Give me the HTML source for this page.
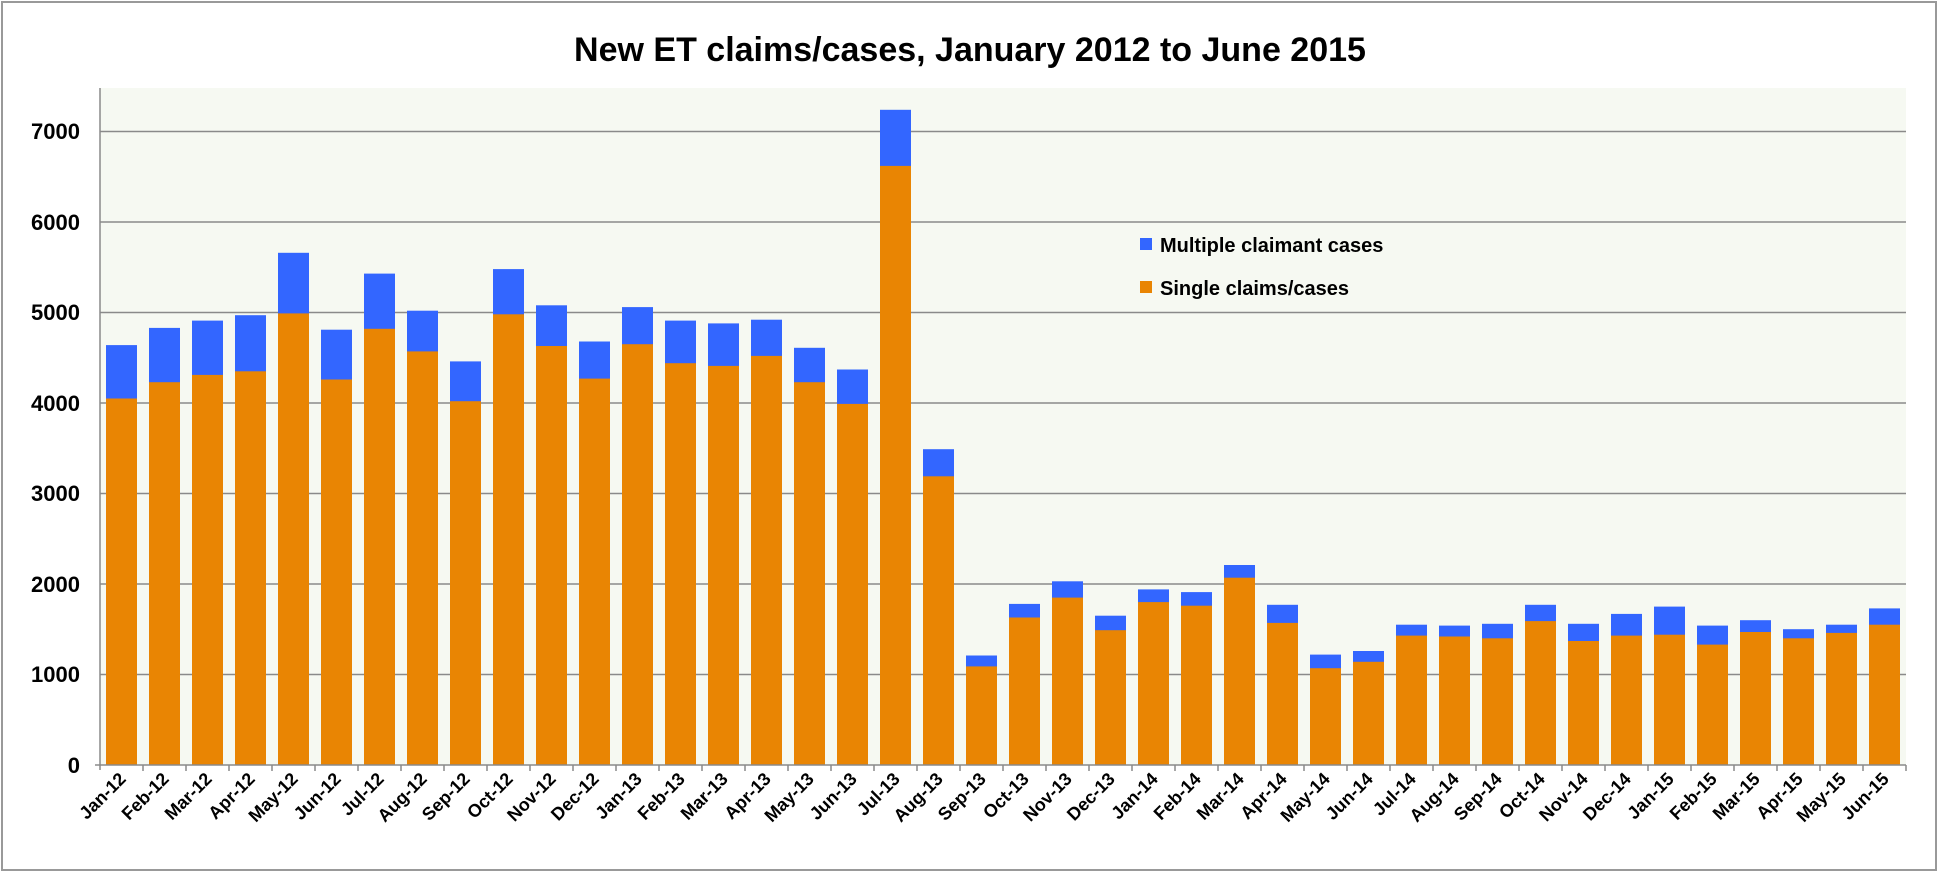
<!DOCTYPE html>
<html><head><meta charset="utf-8"><style>html,body{margin:0;padding:0;background:#fff}svg{display:block;font-family:"Liberation Sans",Arial,sans-serif;font-weight:bold}</style></head><body>
<svg width="1940" height="873" viewBox="0 0 1940 873" xmlns="http://www.w3.org/2000/svg">
<rect x="2" y="2" width="1934" height="868" fill="#fff" stroke="#999" stroke-width="2"/>
<text x="970" y="61" font-size="34" text-anchor="middle" fill="#000">New ET claims/cases, January 2012 to June 2015</text>
<rect x="100" y="88" width="1806" height="677" fill="#f6f9f2"/>
<g stroke="#8a8a8a" stroke-width="1.5">
<line x1="100" y1="674.5" x2="1906" y2="674.5"/><line x1="100" y1="584" x2="1906" y2="584"/><line x1="100" y1="493.5" x2="1906" y2="493.5"/><line x1="100" y1="403" x2="1906" y2="403"/><line x1="100" y1="312.5" x2="1906" y2="312.5"/><line x1="100" y1="222" x2="1906" y2="222"/><line x1="100" y1="131.5" x2="1906" y2="131.5"/>
</g>
<g font-size="22" text-anchor="end" fill="#000">
<text x="80" y="773">0</text><text x="80" y="682">1000</text><text x="80" y="592">2000</text><text x="80" y="501">3000</text><text x="80" y="411">4000</text><text x="80" y="320">5000</text><text x="80" y="230">6000</text><text x="80" y="139">7000</text>
</g>
<g fill="#3366ff">
<rect x="106" y="345.1" width="31" height="419.9"/><rect x="149" y="327.9" width="31" height="437.1"/><rect x="192" y="320.6" width="31" height="444.4"/><rect x="235" y="315.2" width="31" height="449.8"/><rect x="278" y="252.8" width="31" height="512.2"/><rect x="321" y="329.7" width="31" height="435.3"/><rect x="364" y="273.6" width="31" height="491.4"/><rect x="407" y="310.7" width="31" height="454.3"/><rect x="450" y="361.4" width="31" height="403.6"/><rect x="493" y="269.1" width="31" height="495.9"/><rect x="536" y="305.3" width="31" height="459.7"/><rect x="579" y="341.5" width="31" height="423.5"/><rect x="622" y="307.1" width="31" height="457.9"/><rect x="665" y="320.6" width="31" height="444.4"/><rect x="708" y="323.4" width="31" height="441.6"/><rect x="751" y="319.7" width="31" height="445.3"/><rect x="794" y="347.8" width="31" height="417.2"/><rect x="837" y="369.5" width="31" height="395.5"/><rect x="880" y="109.8" width="31" height="655.2"/><rect x="923" y="449.2" width="31" height="315.8"/><rect x="966" y="655.5" width="31" height="109.5"/><rect x="1009" y="603.9" width="31" height="161.1"/><rect x="1052" y="581.3" width="31" height="183.7"/><rect x="1095" y="615.7" width="31" height="149.3"/><rect x="1138" y="589.4" width="31" height="175.6"/><rect x="1181" y="592.1" width="31" height="172.9"/><rect x="1224" y="565" width="31" height="200"/><rect x="1267" y="604.8" width="31" height="160.2"/><rect x="1310" y="654.6" width="31" height="110.4"/><rect x="1353" y="651" width="31" height="114"/><rect x="1396" y="624.7" width="31" height="140.3"/><rect x="1439" y="625.6" width="31" height="139.4"/><rect x="1482" y="623.8" width="31" height="141.2"/><rect x="1525" y="604.8" width="31" height="160.2"/><rect x="1568" y="623.8" width="31" height="141.2"/><rect x="1611" y="613.9" width="31" height="151.1"/><rect x="1654" y="606.6" width="31" height="158.4"/><rect x="1697" y="625.6" width="31" height="139.4"/><rect x="1740" y="620.2" width="31" height="144.8"/><rect x="1783" y="629.2" width="31" height="135.8"/><rect x="1826" y="624.7" width="31" height="140.3"/><rect x="1869" y="608.4" width="31" height="156.6"/>
</g>
<g fill="#e98503">
<rect x="106" y="398.5" width="31" height="366.5"/><rect x="149" y="382.2" width="31" height="382.8"/><rect x="192" y="374.9" width="31" height="390.1"/><rect x="235" y="371.3" width="31" height="393.7"/><rect x="278" y="313.4" width="31" height="451.6"/><rect x="321" y="379.5" width="31" height="385.5"/><rect x="364" y="328.8" width="31" height="436.2"/><rect x="407" y="351.4" width="31" height="413.6"/><rect x="450" y="401.2" width="31" height="363.8"/><rect x="493" y="314.3" width="31" height="450.7"/><rect x="536" y="346" width="31" height="419"/><rect x="579" y="378.6" width="31" height="386.4"/><rect x="622" y="344.2" width="31" height="420.8"/><rect x="665" y="363.2" width="31" height="401.8"/><rect x="708" y="365.9" width="31" height="399.1"/><rect x="751" y="355.9" width="31" height="409.1"/><rect x="794" y="382.2" width="31" height="382.8"/><rect x="837" y="403.9" width="31" height="361.1"/><rect x="880" y="165.9" width="31" height="599.1"/><rect x="923" y="476.3" width="31" height="288.7"/><rect x="966" y="666.4" width="31" height="98.6"/><rect x="1009" y="617.5" width="31" height="147.5"/><rect x="1052" y="597.6" width="31" height="167.4"/><rect x="1095" y="630.2" width="31" height="134.8"/><rect x="1138" y="602.1" width="31" height="162.9"/><rect x="1181" y="605.7" width="31" height="159.3"/><rect x="1224" y="577.7" width="31" height="187.3"/><rect x="1267" y="622.9" width="31" height="142.1"/><rect x="1310" y="668.2" width="31" height="96.8"/><rect x="1353" y="661.8" width="31" height="103.2"/><rect x="1396" y="635.6" width="31" height="129.4"/><rect x="1439" y="636.5" width="31" height="128.5"/><rect x="1482" y="638.3" width="31" height="126.7"/><rect x="1525" y="621.1" width="31" height="143.9"/><rect x="1568" y="641" width="31" height="124"/><rect x="1611" y="635.6" width="31" height="129.4"/><rect x="1654" y="634.7" width="31" height="130.3"/><rect x="1697" y="644.6" width="31" height="120.4"/><rect x="1740" y="632" width="31" height="133"/><rect x="1783" y="638.3" width="31" height="126.7"/><rect x="1826" y="632.9" width="31" height="132.1"/><rect x="1869" y="624.7" width="31" height="140.3"/>
</g>
<g stroke="#8a8a8a" stroke-width="1.5">
<line x1="100" y1="88" x2="100" y2="770"/><line x1="95" y1="765" x2="100" y2="765"/><line x1="100" y1="765" x2="1906" y2="765"/>
<path d="M143 765v6M186 765v6M229 765v6M272 765v6M315 765v6M358 765v6M401 765v6M444 765v6M487 765v6M530 765v6M573 765v6M616 765v6M659 765v6M702 765v6M745 765v6M788 765v6M831 765v6M874 765v6M917 765v6M960 765v6M1003 765v6M1046 765v6M1089 765v6M1132 765v6M1175 765v6M1218 765v6M1261 765v6M1304 765v6M1347 765v6M1390 765v6M1433 765v6M1476 765v6M1519 765v6M1562 765v6M1605 765v6M1648 765v6M1691 765v6M1734 765v6M1777 765v6M1820 765v6M1863 765v6M1906 765v6"/>
</g>
<rect x="1140" y="238" width="12" height="12" fill="#3366ff"/>
<rect x="1140" y="281" width="12" height="12" fill="#e98503"/>
<g font-size="20" fill="#000">
<text x="1160" y="252">Multiple claimant cases</text>
<text x="1160" y="295">Single claims/cases</text>
</g>
<g font-size="18" text-anchor="end" fill="#000">
<text transform="translate(127,780) rotate(-45)">Jan-12</text><text transform="translate(170,780) rotate(-45)">Feb-12</text><text transform="translate(213,780) rotate(-45)">Mar-12</text><text transform="translate(256,780) rotate(-45)">Apr-12</text><text transform="translate(299,780) rotate(-45)">May-12</text><text transform="translate(342,780) rotate(-45)">Jun-12</text><text transform="translate(385,780) rotate(-45)">Jul-12</text><text transform="translate(428,780) rotate(-45)">Aug-12</text><text transform="translate(471,780) rotate(-45)">Sep-12</text><text transform="translate(514,780) rotate(-45)">Oct-12</text><text transform="translate(557,780) rotate(-45)">Nov-12</text><text transform="translate(600,780) rotate(-45)">Dec-12</text><text transform="translate(643,780) rotate(-45)">Jan-13</text><text transform="translate(686,780) rotate(-45)">Feb-13</text><text transform="translate(729,780) rotate(-45)">Mar-13</text><text transform="translate(772,780) rotate(-45)">Apr-13</text><text transform="translate(815,780) rotate(-45)">May-13</text><text transform="translate(858,780) rotate(-45)">Jun-13</text><text transform="translate(901,780) rotate(-45)">Jul-13</text><text transform="translate(944,780) rotate(-45)">Aug-13</text><text transform="translate(987,780) rotate(-45)">Sep-13</text><text transform="translate(1030,780) rotate(-45)">Oct-13</text><text transform="translate(1073,780) rotate(-45)">Nov-13</text><text transform="translate(1116,780) rotate(-45)">Dec-13</text><text transform="translate(1159,780) rotate(-45)">Jan-14</text><text transform="translate(1202,780) rotate(-45)">Feb-14</text><text transform="translate(1245,780) rotate(-45)">Mar-14</text><text transform="translate(1288,780) rotate(-45)">Apr-14</text><text transform="translate(1331,780) rotate(-45)">May-14</text><text transform="translate(1374,780) rotate(-45)">Jun-14</text><text transform="translate(1417,780) rotate(-45)">Jul-14</text><text transform="translate(1460,780) rotate(-45)">Aug-14</text><text transform="translate(1503,780) rotate(-45)">Sep-14</text><text transform="translate(1546,780) rotate(-45)">Oct-14</text><text transform="translate(1589,780) rotate(-45)">Nov-14</text><text transform="translate(1632,780) rotate(-45)">Dec-14</text><text transform="translate(1675,780) rotate(-45)">Jan-15</text><text transform="translate(1718,780) rotate(-45)">Feb-15</text><text transform="translate(1761,780) rotate(-45)">Mar-15</text><text transform="translate(1804,780) rotate(-45)">Apr-15</text><text transform="translate(1847,780) rotate(-45)">May-15</text><text transform="translate(1890,780) rotate(-45)">Jun-15</text>
</g>
</svg>
</body></html>
